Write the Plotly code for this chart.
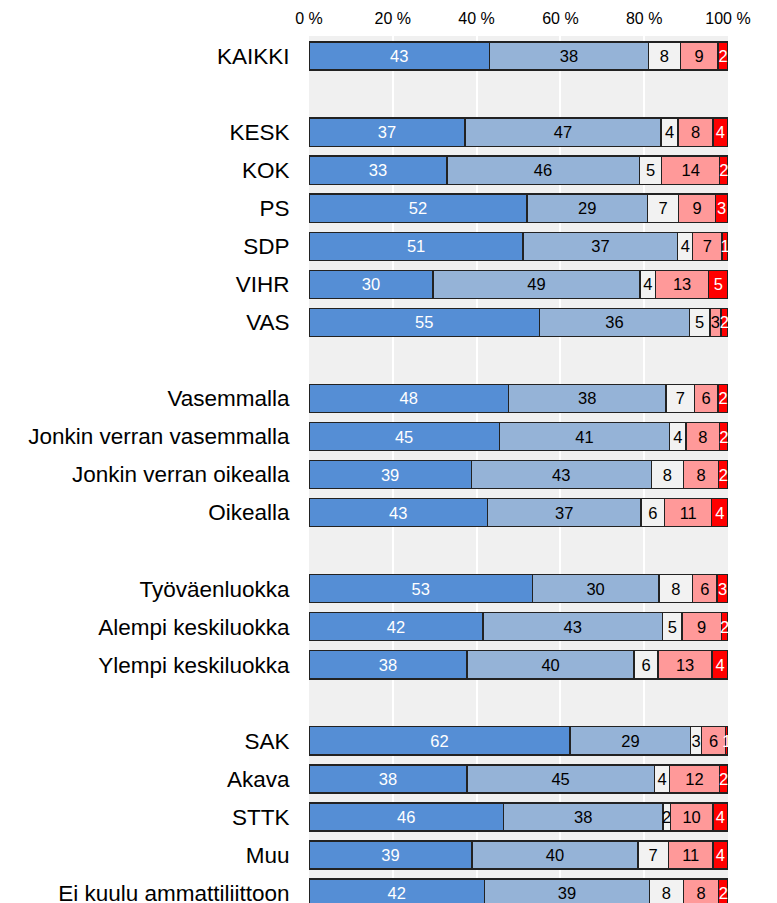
import plotly.graph_objects as go

categories = ["KAIKKI", "", "KESK", "KOK", "PS", "SDP", "VIHR", "VAS", " ",
              "Vasemmalla", "Jonkin verran vasemmalla", "Jonkin verran oikealla", "Oikealla", "  ",
              "Työväenluokka", "Alempi keskiluokka", "Ylempi keskiluokka", "   ",
              "SAK", "Akava", "STTK", "Muu", "Ei kuulu ammattiliittoon"]

# values per series, None for the blank spacer rows
s1 = [43.1, None, 37.2, 32.9, 52.0, 51.1, 29.6, 55.0, None, 47.6, 45.4, 38.7, 42.6, None, 53.3, 41.5, 37.7, None, 62.3, 37.7, 46.4, 38.9, 41.9]
s2 = [37.9, None, 46.8, 45.9, 28.8, 36.9, 49.4, 35.8, None, 37.6, 40.7, 43.0, 36.6, None, 30.2, 42.9, 39.9, None, 28.8, 44.7, 38.1, 39.6, 39.3]
s3 = [7.6, None, 4.1, 5.4, 7.4, 3.6, 3.7, 4.9, None, 6.8, 3.9, 7.7, 5.7, None, 8.1, 4.6, 5.7, None, 2.6, 3.7, 1.7, 7.3, 8.2]
s4 = [9.0, None, 8.3, 13.8, 8.8, 7.0, 12.7, 2.6, None, 5.6, 8.0, 8.4, 11.2, None, 5.8, 9.4, 12.9, None, 5.7, 11.8, 10.2, 10.6, 8.4]
s5 = [2.4, None, 3.6, 2.0, 3.0, 1.4, 4.6, 1.7, None, 2.4, 2.0, 2.2, 3.9, None, 2.6, 1.6, 3.8, None, 0.6, 2.1, 3.6, 3.6, 2.2]

series_names = ["Täysin samaa mieltä", "Jokseenkin samaa mieltä", "Ei osaa sanoa",
                "Jokseenkin eri mieltä", "Täysin eri mieltä"]
series_values = [s1, s2, s3, s4, s5]
colors = ["#558ED5", "#95B3D7", "#F2F2F2", "#FF9999", "#FF0000"]
text_colors = ["white", "black", "black", "black", "white"]

tick_vals = [0, 20, 40, 60, 80, 100]
tick_text = ["0 %", "20 %", "40 %", "60 %", "80 %", "100 %"]

rows = list(range(len(categories)))

fig = go.Figure()
for name, vals, col, tcol in zip(series_names, series_values, colors, text_colors):
    fig.add_trace(go.Bar(
        y=rows, x=vals, name=name, orientation="h",
        marker=dict(color=col, line=dict(color="#222222", width=1.3)),
        width=0.74,
        texttemplate="%{x:.0f}", textposition="inside", insidetextanchor="middle",
        textangle=0, constraintext="none",
        insidetextfont=dict(color=tcol, size=16.5, family="Arial, Liberation Sans, sans-serif"),
        hoverinfo="x+y",
    ))

fig.update_layout(
    barmode="stack",
    width=769, height=895,
    margin=dict(l=301, r=49, t=28, b=0, autoexpand=False),
    paper_bgcolor="white", plot_bgcolor="#F0F0F0",
    showlegend=False,
    bargap=0.26,
    uniformtext=dict(minsize=16, mode="show"),
    font=dict(family="Arial, Liberation Sans, sans-serif", color="black"),
)
fig.update_xaxes(
    side="top", range=[0, 100], tickvals=tick_vals, ticktext=tick_text,
    tickfont=dict(size=16, color="black"), showgrid=True, gridcolor="white", gridwidth=1.5,
    zeroline=False, showline=False, ticks="outside", ticklen=5, tickcolor="rgba(0,0,0,0)",
    fixedrange=True, automargin=False,
)
fig.update_yaxes(
    range=[22.26, -0.526], tickvals=rows, ticktext=categories,
    tickfont=dict(size=22.5, color="black"), showgrid=False, zeroline=False, showline=False,
    ticks="outside", ticklen=14, tickcolor="rgba(0,0,0,0)", fixedrange=True,
    ticklabeloverflow="allow", automargin=False,
)

fig.write_html("out.html")
